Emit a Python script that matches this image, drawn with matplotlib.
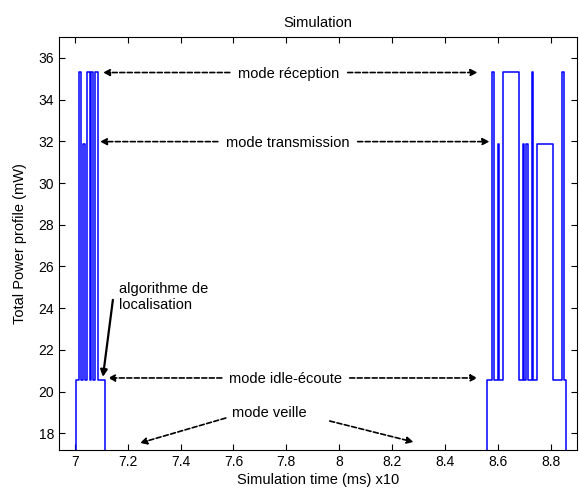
import matplotlib.pyplot as plt

plt.rcParams['font.family'] = ['Liberation Sans', 'DejaVu Sans']

# power levels (mW)
P_SLEEP = 17.0
P_IDLE = 20.55
P_TX = 31.85
P_RX = 35.33

# switching times (ms x10) and the level held from each time on
t_switch = [6.90, 7.003, 7.016, 7.023, 7.030, 7.040, 7.047, 7.057, 7.060,
            7.069, 7.077, 7.087, 7.114,
            8.559, 8.578, 8.584, 8.600, 8.606, 8.619, 8.680, 8.695, 8.701,
            8.705, 8.713, 8.729, 8.735, 8.748, 8.808, 8.844, 8.850, 8.859,
            8.95]
p_level = [P_SLEEP, P_IDLE, P_RX, P_IDLE, P_TX, P_IDLE, P_RX, P_IDLE, P_RX,
           P_IDLE, P_RX, P_IDLE, P_SLEEP,
           P_IDLE, P_RX, P_IDLE, P_TX, P_IDLE, P_RX, P_IDLE, P_TX, P_IDLE,
           P_TX, P_IDLE, P_RX, P_IDLE, P_TX, P_IDLE, P_RX, P_IDLE, P_SLEEP,
           P_SLEEP]

x_ticks = [7, 7.2, 7.4, 7.6, 7.8, 8, 8.2, 8.4, 8.6, 8.8]
x_ticklabels = ['7', '7.2', '7.4', '7.6', '7.8', '8', '8.2', '8.4', '8.6', '8.8']
y_ticks = [18, 20, 22, 24, 26, 28, 30, 32, 34, 36]


def px(x, y):
    # pixel position in the picture -> data coordinates
    return 7 + (x - 75) / 264.5, 18 + (433.3 - y) / 20.83


fig = plt.figure(figsize=(5.79, 4.96), dpi=100)
ax = fig.add_axes([0.102, 0.0927, 0.8947, 0.8327])

ax.step(t_switch, p_level, where='post', color='#0000ff', lw=1.1)

ax.set_xlim(6.94, 8.9)
ax.set_ylim(17.2, 37.0)
ax.set_xticks(x_ticks)
ax.set_xticklabels(x_ticklabels)
ax.set_yticks(y_ticks)
ax.tick_params(direction='in', top=True, right=True, labelsize=10, length=4)

ax.set_title('Simulation', fontsize=10.5, pad=7)
ax.set_xlabel('Simulation time (ms) x10', fontsize=10.5, labelpad=3)
ax.set_ylabel('Total Power profile (mW)', fontsize=10.5, labelpad=8)

dashed = dict(arrowstyle='-|>', linestyle=(0, (3, 1.5)), color='k', lw=1.2,
              mutation_scale=10, shrinkA=0, shrinkB=0)

# mode labels with double dashed arrows
modes = [
    ('mode réception', 289, 74, 230, 103, 348, 478),
    ('mode transmission', 288, 143, 218, 100, 358, 490),
    ('mode idle-écoute', 286, 379, 222, 108, 350, 478),
]
for label, cx, cy, lx0, lx1, rx0, rx1 in modes:
    ax.text(*px(cx, cy), label, ha='center', va='center', fontsize=10.5)
    ax.annotate('', xy=px(lx1, cy - 1), xytext=px(lx0, cy - 1), arrowprops=dashed)
    ax.annotate('', xy=px(rx1, cy - 1), xytext=px(rx0, cy - 1), arrowprops=dashed)

ax.text(*px(270, 413), 'mode veille', ha='center', va='center', fontsize=10.5)
ax.annotate('', xy=px(140, 443), xytext=px(226, 418), arrowprops=dashed)
ax.annotate('', xy=px(414, 442), xytext=px(330, 421), arrowprops=dashed)

ax.text(*px(119, 297), 'algorithme de\nlocalisation', ha='left', va='center',
        fontsize=10.5, linespacing=1.2)
ax.annotate('', xy=px(103, 377), xytext=px(113, 300),
            arrowprops=dict(arrowstyle='-|>', color='k', lw=1.6,
                            mutation_scale=10, shrinkA=0, shrinkB=0))

fig.savefig('out.png', dpi=100)
